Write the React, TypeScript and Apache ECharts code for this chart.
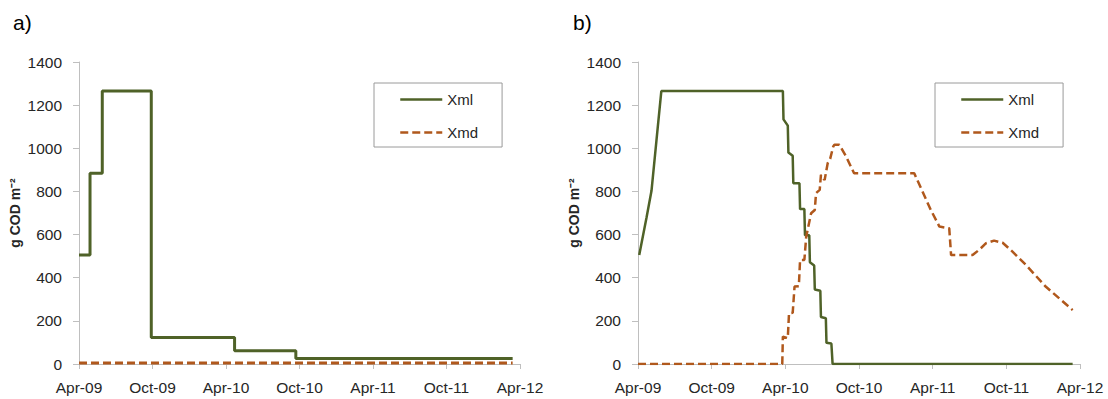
import React, { useEffect, useRef } from "react";
import * as echarts from "echarts";

// Months since Apr-2009 on the x axis
const xTickLabels = ["Apr-09", "Oct-09", "Apr-10", "Oct-10", "Apr-11", "Oct-11", "Apr-12"];
const seriesNames = ["Xml", "Xmd"];

// Panel a)
const aXmlMonth = [0, 0.9, 1.9, 5.9, 12.7, 17.7, 35.4];
const aXmlValue = [505, 884, 1266, 123, 62, 26, 26];
const aXmdMonth = [0, 35.4];
const aXmdValue = [5, 5];

// Panel b)
const bXmlMonth = [0.1, 0.7, 1.1, 1.5, 1.9, 11.8, 11.85, 12.2, 12.25, 12.6, 12.65, 13.15, 13.2, 13.55, 13.6, 13.95, 14.0, 14.35, 14.4, 14.85, 14.9, 15.3, 15.35, 15.75, 15.85, 35.4];
const bXmlValue = [505, 680, 803, 1034, 1265, 1265, 1134, 1105, 980, 965, 838, 838, 718, 718, 597, 597, 472, 457, 345, 340, 218, 212, 98, 95, 0, 0];
const bXmdMonth = [0, 11.75, 11.8, 12.2, 12.3, 12.6, 12.75, 13.1, 13.2, 13.55, 13.7, 14.1, 14.4, 14.5, 14.8, 14.9, 15.2, 15.45, 15.65, 15.9, 16.0, 16.4, 16.95, 17.6, 22.5, 23.05, 23.85, 24.55, 25.35, 25.5, 27.25, 27.8, 28.35, 29.0, 29.7, 30.5, 31.6, 33.2, 35.4];
const bXmdValue = [0, 0, 127, 120, 235, 237, 359, 361, 482, 482, 590, 699, 714, 792, 807, 877, 853, 931, 951, 1008, 1016, 1016, 962, 884, 884, 815, 714, 637, 629, 505, 505, 530, 560, 572, 562, 521, 459, 359, 250];

const zip = (xs: number[], ys: number[]) => xs.map((x, i) => [x, ys[i]]);

const GREEN = "#4F6228";
const BROWN = "#B0581C";
const AXIS = "#BFBFBF";
const TEXT = "#262626";
const FONT = '"Liberation Sans", Arial, sans-serif';

export default function App() {
  const ref = useRef<HTMLDivElement>(null);

  useEffect(() => {
    document.body.style.margin = "0";
    if (!ref.current) return;
    const chart = echarts.init(ref.current, undefined, { renderer: "svg" });

    const grids = [
      { left: 79, top: 62, width: 441, height: 302 },
      { left: 638, top: 62, width: 442, height: 302 },
    ];

    const xAxis = grids.map((_, i) => ({
      type: "value" as const,
      gridIndex: i,
      min: 0,
      max: 36,
      interval: 6,
      axisLine: { show: true, lineStyle: { color: AXIS, width: 1 } },
      axisTick: { show: true, length: 5, lineStyle: { color: AXIS } },
      splitLine: { show: false },
      axisLabel: {
        color: TEXT,
        fontFamily: FONT,
        fontSize: 15.5,
        margin: 15,
        formatter: (v: number) => xTickLabels[Math.round(v / 6)] ?? "",
      },
    }));

    const yAxis = grids.map((_, i) => ({
      type: "value" as const,
      gridIndex: i,
      min: 0,
      max: 1400,
      interval: 200,
      axisLine: { show: true, lineStyle: { color: AXIS, width: 1 } },
      axisTick: { show: true, length: 6, lineStyle: { color: AXIS } },
      splitLine: { show: false },
      axisLabel: {
        color: TEXT,
        fontFamily: FONT,
        fontSize: 15.5,
        margin: 17,
        formatter: (v: number) => String(v),
      },
      name: "g COD m\u207B\u00B2",
      nameLocation: "middle" as const,
      nameRotate: 90,
      nameGap: 57,
      nameTextStyle: { color: TEXT, fontFamily: FONT, fontSize: 14, fontWeight: "bold" as const },
    }));

    const mkLegend = (left: number) => ({
      data: seriesNames,
      orient: "vertical" as const,
      left,
      top: 83,
      padding: [9, 24, 7, 25],
      itemWidth: 42,
      itemHeight: 14,
      itemGap: 18,
      borderColor: "#9A9A9A",
      borderWidth: 1,
      backgroundColor: "#fff",
      selectedMode: false,
      itemStyle: { opacity: 0, borderWidth: 0 },
      lineStyle: { width: 2.5 },
      textStyle: { color: TEXT, fontFamily: FONT, fontSize: 15 },
    });

    const line = (name: string, idx: number, data: number[][], color: string, width: number, dashed: boolean, step?: any) => ({
      name,
      type: "line" as const,
      xAxisIndex: idx,
      yAxisIndex: idx,
      data,
      step: step ?? false,
      symbol: "none",
      showSymbol: false,
      lineStyle: { color, width, type: dashed ? [8, 4] : "solid" },
      itemStyle: { color },
    });

    chart.setOption({
      animation: false,
      backgroundColor: "#fff",
      title: [
        { text: "a)", left: 13, top: 12, padding: 0, textStyle: { color: "#000", fontFamily: FONT, fontSize: 21, fontWeight: "normal" } },
        { text: "b)", left: 573, top: 12, padding: 0, textStyle: { color: "#000", fontFamily: FONT, fontSize: 21, fontWeight: "normal" } },
      ],
      grid: grids,
      xAxis,
      yAxis,
      legend: [mkLegend(374), mkLegend(935)],
      series: [
        line("Xml", 0, zip(aXmlMonth, aXmlValue), GREEN, 3, false, "end"),
        line("Xmd", 0, zip(aXmdMonth, aXmdValue), BROWN, 3, true),
        line("Xml", 1, zip(bXmlMonth, bXmlValue), GREEN, 2.5, false),
        line("Xmd", 1, zip(bXmdMonth, bXmdValue), BROWN, 2.5, true),
      ],
    });

    return () => chart.dispose();
  }, []);

  return <div ref={ref} style={{ width: 1108, height: 399 }} />;
}
